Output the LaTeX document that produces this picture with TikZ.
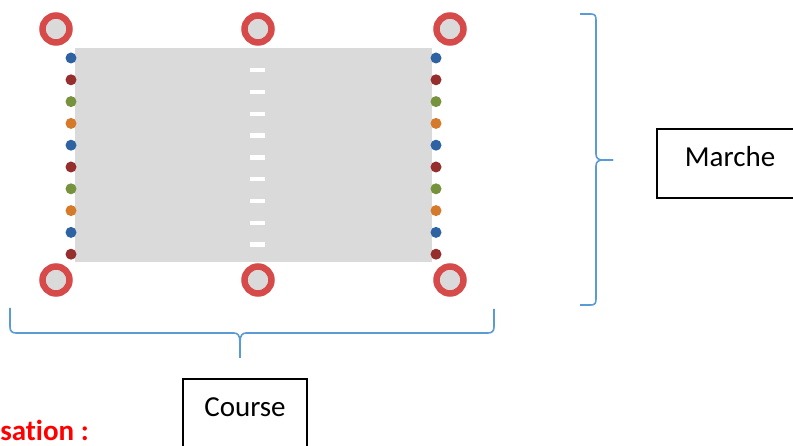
\documentclass[tikz,border=0pt]{standalone}
\usepackage{fontspec}
\setmainfont[Ligatures=NoCommon]{Carlito}
\definecolor{conered}{RGB}{215,74,74}
\definecolor{padgray}{RGB}{218,218,218}
\definecolor{dotblue}{RGB}{46,98,162}
\definecolor{dotred}{RGB}{150,46,46}
\definecolor{dotgreen}{RGB}{118,146,60}
\definecolor{dotorange}{RGB}{212,122,42}
\definecolor{bracecol}{RGB}{91,155,213}
\tikzset{
    cone/.style={circle, draw=conered, fill=padgray, line width=6.5pt, minimum size=27pt, inner sep=0pt},
    dot/.style={circle, minimum size=11pt, inner sep=0pt},
    labelbox/.style={draw, line width=1.6pt, inner sep=0pt, minimum height=69pt,
        text height=20pt, text depth=13pt, font=\fontsize{29}{35}\selectfont},
    bracket/.style={draw=bracecol, line width=1.6pt}
}
\begin{document}
\begin{tikzpicture}[x=1pt, y=-1pt]
    \useasboundingbox (0,0) rectangle (793,446);
    \clip (0,0) rectangle (793,446);
    % piste
    \fill[padgray] (75,48) rectangle (432,262);
    \foreach \i in {0,...,8}
        \fill[white] (250,68+21.8*\i) rectangle ++(15,4.4);
    % plots
    \foreach \c [count=\i] in {dotblue,dotred,dotgreen,dotorange,dotblue,dotred,dotgreen,dotorange,dotblue,dotred}
      {
        \node[dot, fill=\c] (l\i) at (71,36.2+21.8*\i) {};
        \node[dot, fill=\c] (r\i) at (436,36.2+21.8*\i) {};
      }
    % cones
    \foreach \x/\n in {56/w,258/m,450/e}
      {
        \node[cone] (\n-top) at (\x,29) {};
        \node[cone] (\n-bot) at (\x,280) {};
      }
    % accolades
    \draw[bracket] (580,14) -- (591,14) .. controls (595,14) and (596,16) .. (596,20)
        -- (596,154) .. controls (596,158) and (598,160) .. (603,160) -- (613,160);
    \draw[bracket] (613,160) -- (603,160) .. controls (598,160) and (596,162) .. (596,166)
        -- (596,299) .. controls (596,303) and (595,305) .. (591,305) -- (580,305);
    \draw[bracket] (10,308) -- (10,327) .. controls (10,331) and (12,333) .. (16,333)
        -- (234,333) .. controls (238,333) and (240,336) .. (240,342) -- (240,358);
    \draw[bracket] (240,358) -- (240,342) .. controls (240,336) and (242,333) .. (246,333)
        -- (488,333) .. controls (492,333) and (494,331) .. (494,327) -- (494,309);
    % textes
    \node[labelbox, minimum width=146pt] (marche) at (730,163.5) {Marche};
    \node[labelbox, minimum width=124pt] (course) at (245,413.5) {Course};
    \node[anchor=base east, inner sep=0pt, text=red, font=\fontsize{29}{35}\selectfont\bfseries] (orga) at (89,440) {sation :};
\end{tikzpicture}
\end{document}
